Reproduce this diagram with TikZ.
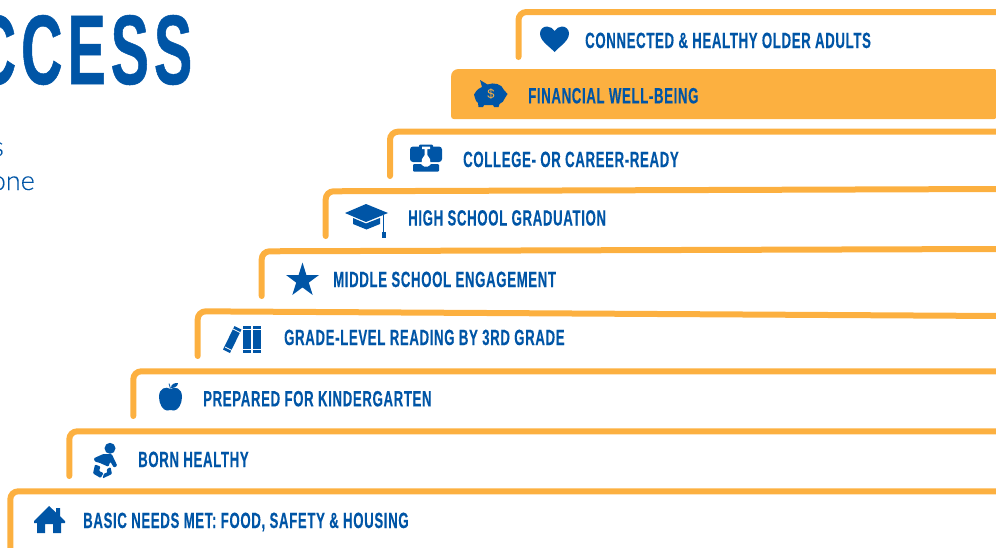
\documentclass[tikz,border=0pt]{standalone}
\usepackage{fontspec}
\setmainfont{Liberation Sans}
\newfontfamily\labelfont[FakeStretch=0.6,LetterSpace=3,FakeBold=0.3]{Liberation Sans Bold}
\newfontfamily\titlefont[FakeStretch=0.58,LetterSpace=5,FakeBold=0.5]{Liberation Sans Bold}
\newfontfamily\bodyfont[UprightFont={* Light},FakeBold=0.3]{Lato}
\definecolor{stairgold}{HTML}{FCB040}
\definecolor{inkblue}{HTML}{0055A6}
\tikzset{
  stair/.style={draw=stairgold,line width=6pt,line cap=round,rounded corners=8pt},
  steplabel/.style={anchor=base west,inner sep=0pt,text=inkblue,font=\labelfont\fontsize{22}{22}\selectfont},
  icon/.style={fill=inkblue,draw=none},
  title/.style={anchor=east,inner sep=0pt,text=inkblue,font=\titlefont\fontsize{99}{99}\selectfont},
  bodytext/.style={anchor=base east,inner sep=0pt,text=inkblue,font=\bodyfont\fontsize{27}{27}\selectfont}
}
\begin{document}
\begin{tikzpicture}[x=1pt,y=-1pt]
\useasboundingbox (0,0) rectangle (996,547);
\clip (0,0) rectangle (996,547);
% title
\node[title] (ttl) at (192.5,50) {CCESS};
\node[bodytext] (ln1) at (4,156) {s};
\node[bodytext] (ln2) at (35,190) {one};
% stairs
\draw[stair] (518.5,57) -- (518.5,12) -- (1000,12);
\fill[stairgold] (451,116) -- (451,77) .. controls (451,72) and (454,69) .. (459,69) -- (994,69) .. controls (995.5,69) and (996,69.5) .. (996,71) -- (996,117) .. controls (996,118.5) and (995.5,119) .. (994,119) -- (454,119) .. controls (452,119) and (451,118) .. (451,116) -- cycle;
\draw[stair] (390,176) -- (390,131.7) -- (1000,131.5);
\draw[stair] (325.7,236) -- (325.7,191.3) -- (1000,189);
\draw[stair] (261.7,296) -- (261.7,251.3) -- (1000,249);
\draw[stair] (197.7,356) -- (197.7,311.3) -- (1000,316);
\draw[stair] (133.3,416) -- (133.3,371.3) -- (1000,371.3);
\draw[stair] (69.3,476) -- (69.3,431.3) -- (1000,431.3);
\draw[stair] (10.3,560) -- (10.3,491.3) -- (1000,491.3);
% labels
\node[steplabel] (l1) at (585,48) {CONNECTED \& HEALTHY OLDER ADULTS};
\node[steplabel] (l2) at (528,103.3) {FINANCIAL WELL-BEING};
\node[steplabel] (l3) at (463,167) {COLLEGE- OR CAREER-READY};
\node[steplabel] (l4) at (408,225.5) {HIGH SCHOOL GRADUATION};
\node[steplabel] (l5) at (333,287) {MIDDLE SCHOOL ENGAGEMENT};
\node[steplabel] (l6) at (284,345) {GRADE-LEVEL READING BY 3RD GRADE};
\node[steplabel] (l7) at (203,406.3) {PREPARED FOR KINDERGARTEN};
\node[steplabel] (l8) at (138,467) {BORN HEALTHY};
\node[steplabel] (l9) at (83,528) {BASIC NEEDS MET: FOOD, SAFETY \& HOUSING};
% heart
\fill[icon] (554.5,52) .. controls (549,46) and (540,41) .. (540,33.5) .. controls (540,29) and (543.5,26.5) .. (547,26.5) .. controls (550,26.5) and (553,28.5) .. (554.5,31) .. controls (556,28.5) and (559,26.5) .. (562,26.5) .. controls (565.5,26.5) and (569,29) .. (569,33.5) .. controls (569,41) and (560,46) .. (554.5,52) -- cycle;
% piggy bank
\fill[icon] (480,80) -- (487.5,84.5) .. controls (494,82) and (502,84) .. (504,90) -- (507.5,94) -- (505,98) .. controls (504,101) and (502,103) .. (499.5,104) -- (498.5,107) -- (494,107) -- (493,105) -- (484,105) -- (483,107) -- (478.5,107) -- (478,103) .. controls (476.5,102) and (475.5,100) .. (475,98) -- (474,94.5) -- (476,91.5) .. controls (477,90) and (479,88) .. (482,87) -- cycle;
\node[inner sep=0pt,text=stairgold,font=\fontsize{13}{13}\selectfont] (pig) at (491,94.5) {\$};
% briefcase
\fill[icon,rounded corners=3pt] (410,162) -- (410,146.5) -- (442,146.5) -- (442,162) -- cycle;
\fill[icon,rounded corners=1pt] (419,148) -- (419,144.5) -- (433,144.5) -- (433,148) -- cycle;
\fill[white] (422,146.5) -- (430,146.5) -- (430,149) -- (427.3,149) -- (427.3,155) -- (430,159) -- (430.5,164) -- (421.5,164) -- (422,159) -- (424.7,155) -- (424.7,149) -- (422,149) -- cycle;
\fill[icon,rounded corners=1pt] (413,164) -- (421.5,164) -- (423,166.5) -- (429,166.5) -- (430.5,164) -- (439,164) -- (439,171.5) -- (413,171.5) -- cycle;
% graduation cap
\fill[icon] (345,213) -- (366,204) -- (388,213) -- (366,222) -- cycle;
\fill[icon] (353,218) -- (366,223.5) -- (380,218) -- (380,224) -- (366.5,229.5) -- (353,224) -- cycle;
\draw[inkblue,line width=1pt] (383.5,215) -- (383.5,232);
\fill[icon] (381.7,231.5) rectangle (385.5,237.5);
% star
\fill[icon] (302.5,262.5) -- (306.4,275) -- (319,275) -- (308.8,282.6) -- (312.7,295) -- (302.5,287.4) -- (292.3,295) -- (296.2,282.6) -- (286,275) -- (298.6,275) -- cycle;
% books
\fill[icon] (223,349.5) -- (234.5,326) -- (241.5,329.5) -- (230,353) -- cycle;
\fill[icon] (243,326) rectangle (251,352.5);
\fill[icon] (253,326) rectangle (261,352.5);
\draw[white,line width=0.8pt] (243,329.5) -- (251,329.5) (253,329.5) -- (261,329.5) (243,349.5) -- (251,349.5) (253,349.5) -- (261,349.5) (233,329) -- (240,332.5) (225,347) -- (232,350.5);
% apple
\fill[icon] (170.5,389) .. controls (166,386) and (159,388) .. (159,397) .. controls (159,404) and (163,410.5) .. (167,410.5) .. controls (168.5,410.5) and (169.5,410) .. (170.5,410) .. controls (171.5,410) and (172.5,410.5) .. (174,410.5) .. controls (178,410.5) and (182,404) .. (182,397) .. controls (182,388) and (175,386) .. (170.5,389) -- cycle;
\fill[icon] (171,388) .. controls (171,384) and (174,383) .. (178,383) .. controls (178,386) and (175,388) .. (171,388) -- cycle;
\draw[inkblue,line width=0.8pt] (169,383.5) -- (170.5,388.5);
% baby
\fill[icon] (110,448.3) circle (5.5);
\fill[icon,rounded corners=1pt] (93.7,458.3) -- (103.3,454) -- (111.7,454) -- (117.3,465.7) -- (114,467.7) -- (110.3,461.7) -- (108.3,466.7) -- (99.3,462.7) -- (95,461.7) -- cycle;
\fill[icon,rounded corners=1pt] (95,464.5) -- (100.5,466.5) -- (99,471) -- (103.5,473) -- (100.7,478) -- (93,473.5) -- cycle;
\fill[icon,rounded corners=1pt] (106.5,469.5) -- (110.5,467) -- (112,474) -- (102.5,478.5) -- (104,473.5) -- (107.5,472.5) -- cycle;
% house
\fill[icon] (49,506) -- (56,512.5) -- (56,508) -- (60,508) -- (60,516) -- (65,521) -- (65,523) -- (61,523) -- (61,533) -- (53,533) -- (53,524) -- (45,524) -- (45,533) -- (37,533) -- (37,523) -- (34,523) -- (34,521) -- cycle;
\end{tikzpicture}
\end{document}
